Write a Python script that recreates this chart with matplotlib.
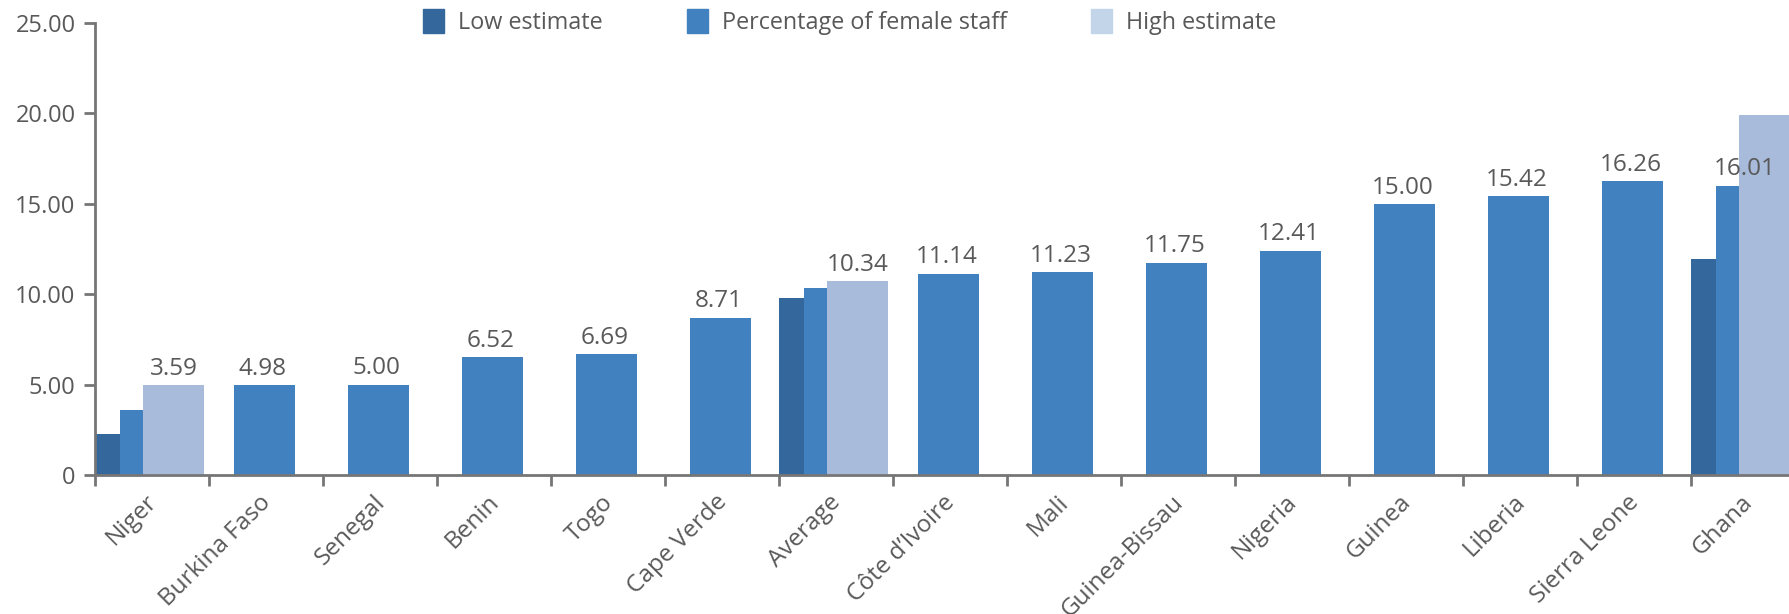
import numpy as np
import matplotlib
matplotlib.use("Agg")
import matplotlib.pyplot as plt
from matplotlib.patches import Patch
from matplotlib.transforms import ScaledTranslation

plt.rcParams['font.family'] = ['Open Sans', 'DejaVu Sans']

countries = ["Niger", "Burkina Faso", "Senegal", "Benin", "Togo", "Cape Verde",
             "Average", "Côte d’Ivoire", "Mali", "Guinea-Bissau", "Nigeria",
             "Guinea", "Liberia", "Sierra Leone", "Ghana"]
female_pct = [3.59, 4.98, 5.00, 6.52, 6.69, 8.71, 10.34, 11.14, 11.23, 11.75,
              12.41, 15.00, 15.42, 16.26, 16.01]
low_est = [2.27, 0, 0, 0, 0, 0, 9.79, 0, 0, 0, 0, 0, 0, 0, 11.95]
high_est = [4.98, 0, 0, 0, 0, 0, 10.72, 0, 0, 0, 0, 0, 0, 0, 19.93]

c_low = '#34679c'
c_pct = '#4281c0'
c_high = '#a8bbdb'
c_high_legend = '#c3d5e8'
txt = '#595959'
axc = '#767676'

fig = plt.figure(figsize=(17.89, 6.14), dpi=100)
ax = fig.add_axes([95 / 1789, 139 / 614, 15 * 114 / 1789, 452 / 614])

x = np.arange(len(countries))
w = 0.535
ax.bar(x - 0.2325, low_est, w, color=c_low)
ax.bar(x - 0.01, female_pct, w, color=c_pct)
ax.bar(x + 0.19, high_est, w, color=c_high)

for i, v in enumerate(female_pct):
    if high_est[i] > 0 and high_est[i] - v < 2:
        lx, ly = i + 0.19, high_est[i]
    else:
        lx, ly = i - 0.03, v
    ax.annotate(f"{v:.2f}", (lx, ly), xytext=(0, 3), textcoords='offset points',
                ha='center', va='bottom', fontsize=17.5, color=txt)

ax.set_xlim(-0.5, 14.5)
ax.set_ylim(0, 25)
ax.set_yticks([0, 5, 10, 15, 20, 25])
ax.set_yticklabels(["0", "5.00", "10.00", "15.00", "20.00", "25.00"])

ax.set_xticks(np.arange(-0.5, 15, 1))
ax.set_xticklabels([])
ax.set_xticks(x, minor=True)
ax.set_xticklabels(countries, minor=True, rotation=45, ha='right', va='top')
ax.tick_params(axis='x', which='minor', length=0, pad=11, labelsize=17.5, labelcolor=txt)
ax.tick_params(axis='x', which='major', length=8, width=2, color=axc)
ax.tick_params(axis='y', length=8, width=2, color=axc, pad=6, labelsize=17, labelcolor=txt)
shift = ScaledTranslation(10 / 100, 0, fig.dpi_scale_trans)
for lab in ax.get_xticklabels(minor=True):
    lab.set_transform(lab.get_transform() + shift)

for s in ['top', 'right']:
    ax.spines[s].set_visible(False)
for s in ['left', 'bottom']:
    ax.spines[s].set_color(axc)
    ax.spines[s].set_linewidth(2)

handles = [Patch(color=c_low), Patch(color=c_pct), Patch(color=c_high_legend)]
fig.legend(handles, ["Low estimate", "Percentage of female staff", "High estimate"],
           loc='center left', bbox_to_anchor=(423 / 1789, 1 - 22 / 614), ncol=3,
           frameon=False, fontsize=16.8, labelcolor=txt, handlelength=0.9,
           handleheight=1.2, handletextpad=0.6, columnspacing=3.6, borderpad=0,
           borderaxespad=0)

fig.savefig("out.png", dpi=100)
